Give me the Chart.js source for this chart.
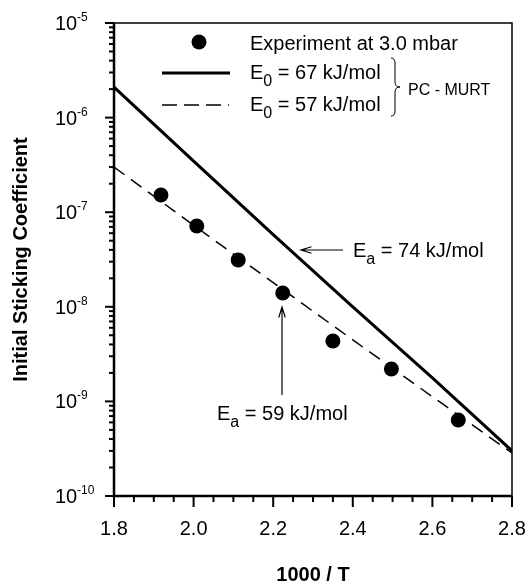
<!DOCTYPE html>
<html>
<head>
<meta charset="utf-8">
<title>Initial Sticking Coefficient</title>
<script src="https://cdn.jsdelivr.net/npm/chart.js@4.4.0/dist/chart.umd.min.js"></script>
<style>
    html, body { margin: 0; padding: 0; background: #fff; }
    #chart-wrap { width: 526px; height: 583px; }
</style>
</head>
<body>
<div id="chart-wrap"><canvas id="chart"></canvas></div>
<script>
// experiment at 3.0 mbar
const inverseTemp = [1.918, 2.008, 2.112, 2.224, 2.350, 2.497, 2.665];
const stickingCoeff = [1.52e-7, 7.15e-8, 3.13e-8, 1.40e-8, 4.35e-9, 2.2e-9, 6.35e-10];

// PC - MURT model curves
const modelX = [1.8, 2.0, 2.2, 2.4, 2.6, 2.8];
const modelE67 = [2.10e-6, 3.46e-7, 5.8e-8, 1.0e-8, 1.77e-9, 3.0e-10];
const modelE57 = [3.0e-7, 7.28e-8, 1.8e-8, 4.47e-9, 1.12e-9, 2.85e-10];

const xTicks = [1.8, 2.0, 2.2, 2.4, 2.6, 2.8];
const xTickLabels = ['1.8', '2.0', '2.2', '2.4', '2.6', '2.8'];
const yDecades = [-10, -9, -8, -7, -6, -5];

const fontFamily = '"Liberation Sans", Arial, Helvetica, sans-serif';
const fontMain = '20px ' + fontFamily;
const fontSub = '16px ' + fontFamily;
const fontSup = '12px ' + fontFamily;
const fontBold = 'bold 20px ' + fontFamily;

const toPoints = (xs, ys) => xs.map((x, i) => ({ x: x, y: ys[i] }));

// text with a subscript after the first letter, e.g. E0 or Ea
function drawSubText(ctx, x, y, head, sub, tail) {
    ctx.textAlign = 'left';
    ctx.textBaseline = 'alphabetic';
    ctx.font = fontMain;
    ctx.fillText(head, x, y);
    x += ctx.measureText(head).width;
    ctx.font = fontSub;
    ctx.fillText(sub, x, y + 7);
    x += ctx.measureText(sub).width;
    ctx.font = fontMain;
    ctx.fillText(tail, x, y);
}

function drawArrow(ctx, x1, y1, x2, y2) {
    const angle = Math.atan2(y2 - y1, x2 - x1);
    const head = 11;
    ctx.beginPath();
    ctx.moveTo(x1, y1);
    ctx.lineTo(x2, y2);
    ctx.moveTo(x2 - head * Math.cos(angle - 0.3), y2 - head * Math.sin(angle - 0.3));
    ctx.lineTo(x2, y2);
    ctx.lineTo(x2 - head * Math.cos(angle + 0.3), y2 - head * Math.sin(angle + 0.3));
    ctx.stroke();
}

const decorPlugin = {
    id: 'decor',
    afterDraw(chart) {
        const ctx = chart.ctx;
        const area = chart.chartArea;
        const xScale = chart.scales.x;
        const yScale = chart.scales.y;
        ctx.save();
        ctx.strokeStyle = '#000';
        ctx.fillStyle = '#000';

        // frame
        ctx.lineWidth = 1.5;
        ctx.beginPath();
        ctx.moveTo(area.left, area.top);
        ctx.lineTo(area.right, area.top);
        ctx.lineTo(area.right, area.bottom);
        ctx.stroke();
        ctx.lineWidth = 2.5;
        ctx.beginPath();
        ctx.moveTo(area.left, area.top);
        ctx.lineTo(area.left, area.bottom);
        ctx.lineTo(area.right, area.bottom);
        ctx.stroke();

        // x ticks, major every 0.2, minor every 0.05
        ctx.lineWidth = 2;
        for (let i = 0; i <= 20; i++) {
            const v = 1.8 + i * 0.05;
            const px = xScale.getPixelForValue(v);
            const len = i % 4 === 0 ? 11 : 6;
            ctx.beginPath();
            ctx.moveTo(px, area.bottom);
            ctx.lineTo(px, area.bottom + len);
            ctx.stroke();
        }

        // x tick labels
        ctx.font = fontMain;
        ctx.textAlign = 'center';
        ctx.textBaseline = 'alphabetic';
        xTicks.forEach((v, i) => {
            ctx.fillText(xTickLabels[i], xScale.getPixelForValue(v), 535);
        });

        // y ticks, decades plus 2..9 minors
        yDecades.forEach(p => {
            const py = yScale.getPixelForValue(Math.pow(10, p));
            ctx.beginPath();
            ctx.moveTo(area.left, py);
            ctx.lineTo(area.left - 9, py);
            ctx.stroke();
            if (p < -5) {
                for (let m = 2; m <= 9; m++) {
                    const my = yScale.getPixelForValue(m * Math.pow(10, p));
                    ctx.beginPath();
                    ctx.moveTo(area.left, my);
                    ctx.lineTo(area.left - 5, my);
                    ctx.stroke();
                }
            }
        });

        // y tick labels as 10^n
        yDecades.forEach(p => {
            const py = yScale.getPixelForValue(Math.pow(10, p));
            ctx.textAlign = 'left';
            ctx.textBaseline = 'alphabetic';
            ctx.font = fontMain;
            ctx.fillText('10', 55, py + 7);
            ctx.font = fontSup;
            ctx.fillText('-' + Math.abs(p), 77, py - 2);
        });

        // axis titles
        ctx.font = fontBold;
        ctx.textAlign = 'center';
        ctx.textBaseline = 'alphabetic';
        ctx.fillText('1000 / T', (area.left + area.right) / 2, 581);
        ctx.save();
        ctx.translate(27, (area.top + area.bottom) / 2);
        ctx.rotate(-Math.PI / 2);
        ctx.fillText('Initial Sticking Coefficient', 0, 0);
        ctx.restore();

        // legend
        ctx.beginPath();
        ctx.arc(199, 42, 7.5, 0, Math.PI * 2);
        ctx.fill();
        ctx.textAlign = 'left';
        ctx.font = fontMain;
        ctx.fillText('Experiment at 3.0 mbar', 250, 50);

        ctx.lineWidth = 3;
        ctx.beginPath();
        ctx.moveTo(162, 73);
        ctx.lineTo(230, 73);
        ctx.stroke();
        drawSubText(ctx, 250, 79, 'E', '0', ' = 67 kJ/mol');

        ctx.lineWidth = 1.5;
        ctx.setLineDash([15, 7]);
        ctx.beginPath();
        ctx.moveTo(162, 105);
        ctx.lineTo(229, 105);
        ctx.stroke();
        ctx.setLineDash([]);
        drawSubText(ctx, 250, 111, 'E', '0', ' = 57 kJ/mol');

        // brace for the two model curves
        ctx.lineWidth = 1;
        ctx.beginPath();
        ctx.moveTo(391, 58);
        ctx.quadraticCurveTo(395, 58, 395, 63);
        ctx.lineTo(395, 82);
        ctx.quadraticCurveTo(395, 87, 400, 87);
        ctx.quadraticCurveTo(395, 87, 395, 92);
        ctx.lineTo(395, 111);
        ctx.quadraticCurveTo(395, 116, 391, 116);
        ctx.stroke();
        ctx.font = fontSub;
        ctx.fillText('PC - MURT', 408, 95);

        // activation energy notes
        ctx.lineWidth = 1.2;
        drawArrow(ctx, 343, 250, 301, 250);
        drawSubText(ctx, 353, 257, 'E', 'a', ' = 74 kJ/mol');
        drawArrow(ctx, 282, 395, 282, 307);
        drawSubText(ctx, 217, 420, 'E', 'a', ' = 59 kJ/mol');

        ctx.restore();
    }
};

new Chart(document.getElementById('chart'), {
    type: 'scatter',
    data: {
        datasets: [
            {
                label: 'Experiment at 3.0 mbar',
                data: toPoints(inverseTemp, stickingCoeff),
                pointRadius: 7.5,
                pointHoverRadius: 7.5,
                backgroundColor: '#000',
                borderColor: '#000',
                borderWidth: 0
            },
            {
                label: 'E0 = 67 kJ/mol',
                data: toPoints(modelX, modelE67),
                showLine: true,
                pointRadius: 0,
                borderColor: '#000',
                borderWidth: 3,
                tension: 0
            },
            {
                label: 'E0 = 57 kJ/mol',
                data: toPoints(modelX, modelE57),
                showLine: true,
                pointRadius: 0,
                borderColor: '#000',
                borderWidth: 1.5,
                borderDash: [13, 8],
                tension: 0
            }
        ]
    },
    options: {
        responsive: true,
        maintainAspectRatio: false,
        animation: false,
        layout: { padding: { top: 23, right: 14, left: 0, bottom: 0 } },
        plugins: {
            legend: { display: false },
            tooltip: { enabled: false }
        },
        scales: {
            x: {
                type: 'linear',
                min: 1.8,
                max: 2.8,
                grid: { display: false, drawTicks: false },
                border: { display: false },
                afterBuildTicks: (scale) => { scale.ticks = xTicks.map(v => ({ value: v })); },
                afterFit: (scale) => { scale.height = 87; },
                ticks: { display: false }
            },
            y: {
                type: 'logarithmic',
                min: 1e-10,
                max: 1e-5,
                grid: { display: false, drawTicks: false },
                border: { display: false },
                afterFit: (scale) => { scale.width = 114; },
                ticks: { display: false }
            }
        }
    },
    plugins: [decorPlugin]
});
</script>
</body>
</html>
